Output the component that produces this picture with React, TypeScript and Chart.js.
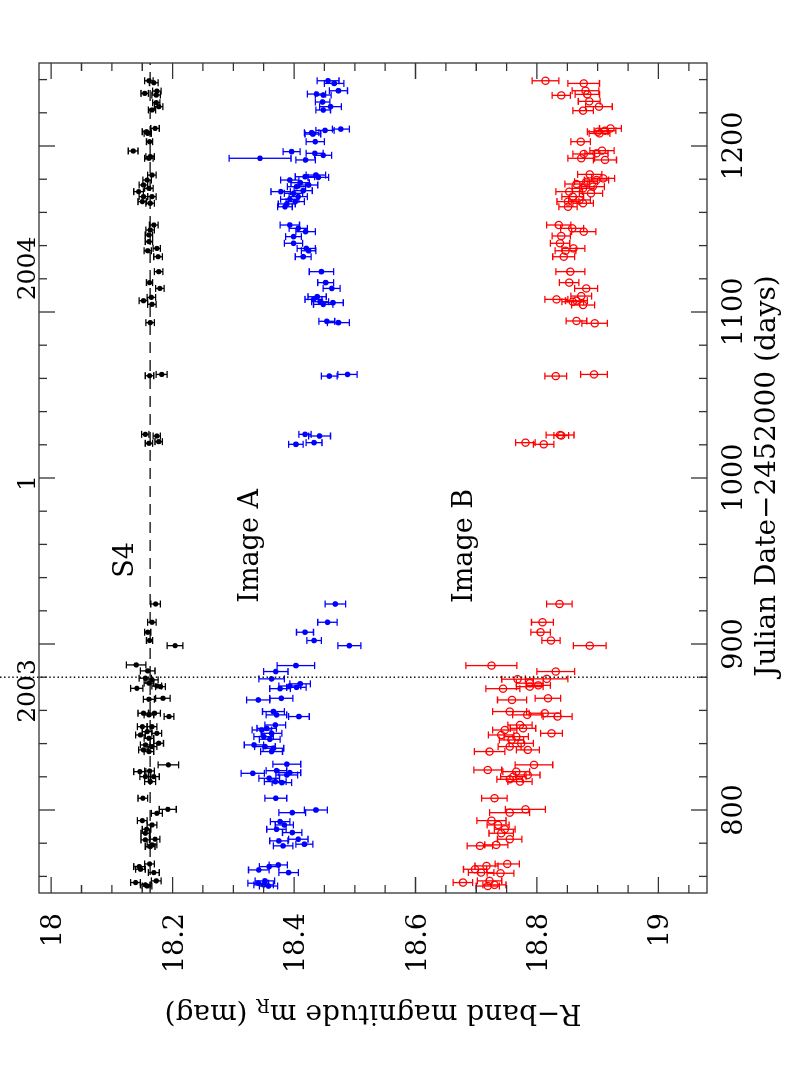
import React, { useEffect, useRef } from 'react';
import { Chart, registerables } from 'chart.js';

Chart.register(...registerables);

// [Julian Date - 2452000, R magnitude, error]
const s4Points: [number, number, number][] = [
  [1239.3, 18.161, 0.007], [1238.1, 18.169, 0.007], [1233.1, 18.174, 0.007], [1231.7, 18.154, 0.006],
  [1230.7, 18.173, 0.007], [1226.1, 18.173, 0.006], [1223.7, 18.177, 0.007], [1221.7, 18.166, 0.006],
  [1210.6, 18.171, 0.007], [1208.6, 18.157, 0.007], [1207.6, 18.159, 0.006], [1202.6, 18.162, 0.005],
  [1197.0, 18.135, 0.008], [1193.6, 18.163, 0.007], [1192.6, 18.161, 0.007], [1182.5, 18.166, 0.007],
  [1179.5, 18.158, 0.007], [1176.5, 18.152, 0.007], [1174.5, 18.161, 0.007], [1172.5, 18.144, 0.008],
  [1169.5, 18.152, 0.007], [1169.5, 18.166, 0.007], [1166.5, 18.150, 0.007], [1165.5, 18.163, 0.007],
  [1152.4, 18.169, 0.007], [1149.4, 18.163, 0.007], [1146.4, 18.161, 0.006], [1142.4, 18.161, 0.006],
  [1138.3, 18.174, 0.006], [1136.9, 18.159, 0.006], [1133.3, 18.176, 0.007], [1124.3, 18.177, 0.007],
  [1117.7, 18.162, 0.005], [1114.2, 18.179, 0.007], [1108.8, 18.165, 0.007], [1106.8, 18.152, 0.007],
  [1104.6, 18.166, 0.007], [1093.6, 18.163, 0.007], [1062.4, 18.182, 0.009], [1061.6, 18.162, 0.007],
  [1026.3, 18.155, 0.006], [1025.3, 18.174, 0.006], [1021.9, 18.177, 0.006], [1020.9, 18.161, 0.006],
  [924.1, 18.172, 0.008], [913.1, 18.166, 0.007], [907.1, 18.159, 0.005], [902.1, 18.162, 0.005],
  [899.0, 18.204, 0.013], [887.4, 18.140, 0.016], [883.8, 18.159, 0.012], [879.4, 18.155, 0.010],
  [878.4, 18.166, 0.010], [876.4, 18.161, 0.008], [874.7, 18.174, 0.008], [874.3, 18.180, 0.008],
  [873.3, 18.141, 0.010], [867.3, 18.184, 0.012], [866.7, 18.161, 0.009], [858.3, 18.152, 0.009],
  [858.3, 18.170, 0.010], [857.3, 18.161, 0.008], [856.3, 18.194, 0.008], [850.2, 18.150, 0.008],
  [850.2, 18.166, 0.008], [847.2, 18.158, 0.008], [846.2, 18.174, 0.008], [845.2, 18.147, 0.008],
  [843.2, 18.161, 0.008], [840.2, 18.177, 0.008], [839.2, 18.155, 0.008], [838.2, 18.166, 0.008],
  [836.2, 18.152, 0.008], [835.2, 18.161, 0.008], [827.2, 18.193, 0.017], [823.5, 18.162, 0.008],
  [823.1, 18.146, 0.010], [820.1, 18.155, 0.009], [820.1, 18.169, 0.009], [817.1, 18.163, 0.009],
  [807.1, 18.151, 0.008], [800.4, 18.192, 0.014], [798.0, 18.174, 0.009], [793.6, 18.150, 0.008],
  [791.0, 18.166, 0.008], [788.4, 18.157, 0.007], [786.0, 18.155, 0.007], [782.4, 18.171, 0.008],
  [782.0, 18.155, 0.007], [779.0, 18.166, 0.008], [778.0, 18.163, 0.008], [767.5, 18.162, 0.008],
  [765.9, 18.145, 0.009], [764.3, 18.147, 0.008], [762.3, 18.169, 0.009], [757.3, 18.173, 0.008],
  [756.3, 18.139, 0.008], [754.9, 18.155, 0.008], [754.2, 18.158, 0.008],
];

const imageAPoints: [number, number, number][] = [
  [1239.3, 18.456, 0.018], [1237.7, 18.466, 0.016], [1233.3, 18.473, 0.015], [1231.3, 18.437, 0.015],
  [1230.7, 18.448, 0.013], [1226.5, 18.447, 0.012], [1223.7, 18.460, 0.018], [1221.7, 18.448, 0.012],
  [1210.2, 18.477, 0.014], [1209.4, 18.451, 0.015], [1208.0, 18.429, 0.012], [1207.2, 18.431, 0.013],
  [1202.6, 18.435, 0.015], [1196.6, 18.396, 0.014], [1195.6, 18.434, 0.014], [1194.4, 18.448, 0.014],
  [1192.6, 18.344, 0.051], [1191.6, 18.419, 0.016], [1182.5, 18.436, 0.016], [1181.1, 18.440, 0.017],
  [1181.5, 18.418, 0.016], [1179.5, 18.393, 0.015], [1177.9, 18.410, 0.015], [1176.5, 18.424, 0.015],
  [1175.5, 18.404, 0.015], [1173.1, 18.415, 0.015], [1172.5, 18.378, 0.016], [1171.5, 18.399, 0.015],
  [1169.5, 18.407, 0.015], [1167.9, 18.393, 0.015], [1166.5, 18.402, 0.015], [1165.1, 18.388, 0.014],
  [1163.4, 18.385, 0.012], [1152.4, 18.393, 0.016], [1150.4, 18.407, 0.015], [1148.4, 18.419, 0.016],
  [1145.4, 18.399, 0.013], [1141.4, 18.399, 0.015], [1138.3, 18.420, 0.015], [1136.9, 18.424, 0.012],
  [1133.3, 18.415, 0.013], [1124.3, 18.445, 0.020], [1117.7, 18.452, 0.013], [1114.2, 18.462, 0.014],
  [1109.2, 18.438, 0.015], [1107.6, 18.432, 0.014], [1106.2, 18.443, 0.014], [1105.6, 18.464, 0.017],
  [1104.6, 18.448, 0.016], [1094.4, 18.454, 0.013], [1093.6, 18.473, 0.018], [1062.4, 18.488, 0.016],
  [1061.4, 18.458, 0.013], [1026.3, 18.418, 0.010], [1025.3, 18.442, 0.018], [1021.3, 18.433, 0.013],
  [1020.3, 18.403, 0.012], [924.1, 18.468, 0.017], [913.1, 18.455, 0.016], [907.1, 18.418, 0.014],
  [902.1, 18.433, 0.012], [899.0, 18.491, 0.019], [887.0, 18.403, 0.031], [883.4, 18.370, 0.020],
  [879.0, 18.363, 0.021], [876.0, 18.410, 0.017], [874.7, 18.393, 0.018], [873.9, 18.404, 0.016],
  [873.1, 18.377, 0.017], [867.3, 18.379, 0.019], [866.3, 18.341, 0.019], [859.3, 18.366, 0.018],
  [857.3, 18.371, 0.017], [856.3, 18.408, 0.017], [851.2, 18.369, 0.017], [849.2, 18.355, 0.016],
  [848.2, 18.347, 0.016], [846.2, 18.363, 0.017], [844.2, 18.350, 0.016], [842.6, 18.360, 0.017],
  [839.2, 18.334, 0.016], [838.2, 18.352, 0.017], [837.2, 18.366, 0.017], [835.2, 18.363, 0.018],
  [827.6, 18.388, 0.023], [823.7, 18.371, 0.017], [822.5, 18.393, 0.018], [822.1, 18.332, 0.019],
  [821.1, 18.388, 0.018], [819.1, 18.359, 0.017], [817.1, 18.369, 0.018], [816.5, 18.380, 0.016],
  [807.1, 18.370, 0.018], [800.0, 18.436, 0.019], [798.4, 18.397, 0.022], [793.0, 18.377, 0.016],
  [791.0, 18.384, 0.015], [788.4, 18.371, 0.016], [786.4, 18.397, 0.016], [782.4, 18.407, 0.016],
  [781.4, 18.375, 0.015], [779.4, 18.417, 0.014], [778.4, 18.382, 0.016], [766.9, 18.374, 0.015],
  [765.9, 18.359, 0.016], [763.9, 18.342, 0.017], [762.3, 18.391, 0.016], [757.3, 18.352, 0.016],
  [755.9, 18.341, 0.017], [754.9, 18.350, 0.016], [754.2, 18.358, 0.015],
];

const imageBPoints: [number, number, number][] = [
  [1239.3, 18.814, 0.022], [1237.7, 18.877, 0.026], [1233.3, 18.880, 0.022], [1231.1, 18.883, 0.020],
  [1230.5, 18.840, 0.015], [1226.9, 18.886, 0.018], [1223.7, 18.902, 0.022], [1221.3, 18.876, 0.017],
  [1210.6, 18.921, 0.018], [1209.2, 18.912, 0.018], [1208.6, 18.900, 0.017], [1207.6, 18.903, 0.017],
  [1202.6, 18.872, 0.016], [1197.2, 18.907, 0.020], [1195.6, 18.898, 0.019], [1195.2, 18.877, 0.018],
  [1192.6, 18.873, 0.022], [1191.6, 18.912, 0.019], [1182.9, 18.887, 0.020], [1180.5, 18.909, 0.019],
  [1179.5, 18.898, 0.020], [1178.5, 18.881, 0.019], [1177.1, 18.865, 0.019], [1175.5, 18.892, 0.019],
  [1174.5, 18.876, 0.018], [1172.5, 18.853, 0.022], [1171.5, 18.889, 0.019], [1169.5, 18.859, 0.018],
  [1167.5, 18.870, 0.018], [1166.5, 18.851, 0.018], [1165.5, 18.876, 0.017], [1163.4, 18.851, 0.015],
  [1152.4, 18.836, 0.020], [1150.4, 18.858, 0.019], [1148.4, 18.877, 0.020], [1145.8, 18.840, 0.015],
  [1141.4, 18.838, 0.016], [1138.3, 18.860, 0.019], [1136.9, 18.847, 0.017], [1133.3, 18.844, 0.018],
  [1124.3, 18.855, 0.024], [1117.7, 18.853, 0.016], [1114.2, 18.881, 0.019], [1109.6, 18.873, 0.017],
  [1107.6, 18.832, 0.019], [1106.8, 18.865, 0.018], [1106.2, 18.859, 0.018], [1104.2, 18.876, 0.019],
  [1094.6, 18.865, 0.017], [1093.2, 18.895, 0.021], [1062.4, 18.894, 0.022], [1061.4, 18.831, 0.018],
  [1025.9, 18.838, 0.023], [1025.6, 18.840, 0.012], [1021.3, 18.781, 0.016], [1020.3, 18.811, 0.017],
  [924.1, 18.837, 0.021], [913.1, 18.809, 0.018], [907.1, 18.806, 0.016], [902.1, 18.823, 0.015],
  [899.0, 18.887, 0.027], [887.0, 18.725, 0.042], [883.4, 18.831, 0.031], [879.0, 18.816, 0.035],
  [878.8, 18.768, 0.026], [876.4, 18.788, 0.022], [875.1, 18.802, 0.020], [874.3, 18.788, 0.022],
  [873.1, 18.744, 0.028], [867.3, 18.818, 0.021], [866.3, 18.759, 0.024], [859.3, 18.755, 0.028],
  [858.3, 18.813, 0.026], [857.3, 18.784, 0.024], [856.3, 18.834, 0.024], [851.2, 18.772, 0.020],
  [849.2, 18.777, 0.021], [848.2, 18.747, 0.020], [846.2, 18.824, 0.018], [845.2, 18.741, 0.021],
  [844.2, 18.766, 0.020], [842.2, 18.758, 0.020], [840.2, 18.774, 0.020], [838.2, 18.755, 0.019],
  [836.2, 18.785, 0.019], [835.2, 18.722, 0.025], [827.2, 18.795, 0.031], [824.1, 18.719, 0.023],
  [823.1, 18.766, 0.022], [821.1, 18.785, 0.020], [820.1, 18.761, 0.021], [818.5, 18.755, 0.021],
  [817.1, 18.772, 0.020], [807.1, 18.730, 0.021], [800.4, 18.781, 0.033], [798.4, 18.755, 0.033],
  [793.6, 18.725, 0.024], [791.0, 18.736, 0.018], [788.4, 18.747, 0.017], [786.0, 18.741, 0.020],
  [782.4, 18.755, 0.020], [779.0, 18.733, 0.019], [778.4, 18.706, 0.021], [767.5, 18.751, 0.020],
  [766.3, 18.717, 0.019], [764.3, 18.698, 0.019], [762.3, 18.708, 0.021], [761.9, 18.740, 0.022],
  [757.3, 18.722, 0.020], [756.3, 18.678, 0.016], [754.9, 18.730, 0.019], [754.2, 18.719, 0.019],
];

const s4MeanMag = 18.163;
const jdRange = [750, 1250];
const magRange = [17.98, 19.08];
const markerJD = 880;

const jdMajorTicks = [800, 900, 1000, 1100, 1200];
const jdMajorLabels = ['800', '900', '1000', '1100', '1200'];
const jdMinorTicks = [760, 780, 820, 840, 860, 880, 920, 940, 960, 980, 1020, 1040, 1060, 1080, 1120, 1140, 1160, 1180, 1220, 1240];
const magMajorTicks = [18, 18.2, 18.4, 18.6, 18.8, 19];
const magMajorLabels = ['18', '18.2', '18.4', '18.6', '18.8', '19'];
const magMinorTicks = [18.05, 18.1, 18.15, 18.25, 18.3, 18.35, 18.45, 18.5, 18.55, 18.65, 18.7, 18.75, 18.85, 18.9, 18.95, 19.05];

const yearLabels = ['2003', '1', '2004'];
const yearLabelJD = [871.7, 997, 1126.2];

const seriesLabels = ['S4', 'Image A', 'Image B'];
const seriesLabelJD = [950.7, 959.1, 959.1];
const seriesLabelMag = [18.135, 18.341, 18.693];

const FONT = '"DejaVu Serif", "Liberation Serif", serif';
const W = 1067;
const H = 797;

const errorBarPlugin = {
  id: 'errorBars',
  beforeDatasetsDraw(chart: any) {
    const ctx = chart.ctx;
    const xs = chart.scales.x;
    const ys = chart.scales.y;
    ctx.save();
    chart.data.datasets.forEach((ds: any) => {
      if (!ds.errors) return;
      ctx.strokeStyle = ds.errColor;
      ctx.lineWidth = 1.3;
      ds.data.forEach((p: any, j: number) => {
        const e = ds.errors[j];
        const px = xs.getPixelForValue(p.x);
        const y1 = ys.getPixelForValue(p.y - e);
        const y2 = ys.getPixelForValue(p.y + e);
        ctx.beginPath();
        ctx.moveTo(px, y1);
        ctx.lineTo(px, y2);
        ctx.moveTo(px - 3.5, y1);
        ctx.lineTo(px + 3.5, y1);
        ctx.moveTo(px - 3.5, y2);
        ctx.lineTo(px + 3.5, y2);
        ctx.stroke();
      });
    });
    ctx.restore();
  },
};

const framePlugin = {
  id: 'frame',
  afterDraw(chart: any) {
    const ctx = chart.ctx;
    const xs = chart.scales.x;
    const ys = chart.scales.y;
    const { left, right, top, bottom } = chart.chartArea;
    ctx.save();

    // dotted marker line
    const mx = xs.getPixelForValue(markerJD);
    ctx.strokeStyle = '#000';
    ctx.lineWidth = 1.4;
    ctx.setLineDash([1.5, 2.6]);
    ctx.beginPath();
    ctx.moveTo(mx, 0);
    ctx.lineTo(mx, bottom);
    ctx.stroke();
    ctx.setLineDash([]);

    // frame
    ctx.strokeStyle = '#333';
    ctx.lineWidth = 1.3;
    ctx.strokeRect(left, top, right - left, bottom - top);

    ctx.beginPath();
    jdMajorTicks.forEach((v) => {
      const px = xs.getPixelForValue(v);
      ctx.moveTo(px, bottom); ctx.lineTo(px, bottom - 16);
      ctx.moveTo(px, top); ctx.lineTo(px, top + 16);
    });
    jdMinorTicks.forEach((v) => {
      const px = xs.getPixelForValue(v);
      ctx.moveTo(px, bottom); ctx.lineTo(px, bottom - 8);
      ctx.moveTo(px, top); ctx.lineTo(px, top + 8);
    });
    magMajorTicks.forEach((v) => {
      const py = ys.getPixelForValue(v);
      ctx.moveTo(left, py); ctx.lineTo(left + 16, py);
      ctx.moveTo(right, py); ctx.lineTo(right - 16, py);
    });
    magMinorTicks.forEach((v) => {
      const py = ys.getPixelForValue(v);
      ctx.moveTo(left, py); ctx.lineTo(left + 8, py);
      ctx.moveTo(right, py); ctx.lineTo(right - 8, py);
    });
    ctx.stroke();

    ctx.fillStyle = '#000';
    ctx.textBaseline = 'alphabetic';

    // JD tick labels
    ctx.font = `27px ${FONT}`;
    ctx.textAlign = 'center';
    jdMajorTicks.forEach((v, i) => {
      ctx.fillText(jdMajorLabels[i], xs.getPixelForValue(v), bottom + 35);
    });

    // magnitude tick labels
    ctx.textAlign = 'right';
    magMajorTicks.forEach((v, i) => {
      ctx.fillText(magMajorLabels[i], left - 20, ys.getPixelForValue(v) + 10);
    });

    // year labels on top axis
    ctx.font = `25px ${FONT}`;
    ctx.textAlign = 'center';
    yearLabels.forEach((t, i) => {
      ctx.fillText(t, xs.getPixelForValue(yearLabelJD[i]), top - 4);
    });

    // series labels
    ctx.font = `27px ${FONT}`;
    seriesLabels.forEach((t, i) => {
      ctx.fillText(t, xs.getPixelForValue(seriesLabelJD[i]), ys.getPixelForValue(seriesLabelMag[i]));
    });

    // x title
    ctx.font = `28px ${FONT}`;
    ctx.fillText('Julian Date\u22122452000 (days)', (left + right) / 2 + 2, bottom + 68);

    // y title, rotated with subscript
    const part1 = 'R\u2212band magnitude m';
    const sub = 'R';
    const part2 = ' (mag)';
    ctx.font = `28px ${FONT}`;
    const w1 = ctx.measureText(part1).width;
    const w3 = ctx.measureText(part2).width;
    ctx.font = `18px ${FONT}`;
    const w2 = ctx.measureText(sub).width;
    const total = w1 + w2 + w3;
    ctx.translate(left - 112, (top + bottom) / 2);
    ctx.rotate(-Math.PI / 2);
    ctx.textAlign = 'left';
    ctx.font = `28px ${FONT}`;
    ctx.fillText(part1, -total / 2, 0);
    ctx.font = `18px ${FONT}`;
    ctx.fillText(sub, -total / 2 + w1, 6);
    ctx.font = `28px ${FONT}`;
    ctx.fillText(part2, -total / 2 + w1 + w2, 0);

    ctx.restore();
  },
};

function toXY(points: [number, number, number][]) {
  return points.map((p) => ({ x: p[0], y: p[1] }));
}

export default function App() {
  const ref = useRef<HTMLCanvasElement | null>(null);

  useEffect(() => {
    if (!ref.current) return;
    const chart = new Chart(ref.current, {
      type: 'scatter',
      data: {
        datasets: [
          {
            type: 'line',
            data: [
              { x: jdRange[0], y: s4MeanMag },
              { x: jdRange[1], y: s4MeanMag },
            ],
            borderColor: '#000',
            borderWidth: 1.4,
            borderDash: [11, 7],
            pointRadius: 0,
            fill: false,
          } as any,
          {
            data: toXY(s4Points),
            errors: s4Points.map((p) => p[2]),
            errColor: '#000',
            pointRadius: 2.6,
            pointBackgroundColor: '#000',
            pointBorderWidth: 0,
          } as any,
          {
            data: toXY(imageAPoints),
            errors: imageAPoints.map((p) => p[2]),
            errColor: '#0000ff',
            pointRadius: 2.8,
            pointBackgroundColor: '#0000ff',
            pointBorderWidth: 0,
          } as any,
          {
            data: toXY(imageBPoints),
            errors: imageBPoints.map((p) => p[2]),
            errColor: '#ff0000',
            pointRadius: 3.6,
            pointBackgroundColor: 'rgba(0,0,0,0)',
            pointBorderColor: '#ff0000',
            pointBorderWidth: 1.3,
          } as any,
        ],
      },
      options: {
        responsive: false,
        animation: false,
        events: [],
        layout: { padding: { left: 174, right: 63, top: 39, bottom: 90 } },
        plugins: { legend: { display: false }, tooltip: { enabled: false } },
        scales: {
          x: { type: 'linear', min: jdRange[0], max: jdRange[1], display: false },
          y: { type: 'linear', min: magRange[0], max: magRange[1], reverse: true, display: false },
        },
      },
      plugins: [errorBarPlugin, framePlugin],
    });
    return () => chart.destroy();
  }, []);

  return (
    <div style={{ position: 'absolute', left: 0, top: 0, width: 797, height: 1067, overflow: 'hidden', background: '#fff' }}>
      <canvas
        ref={ref}
        width={W}
        height={H}
        style={{
          position: 'absolute',
          left: 0,
          top: 0,
          width: W,
          height: H,
          transformOrigin: '0 0',
          transform: `translate(0px, ${W}px) rotate(-90deg)`,
        }}
      />
    </div>
  );
}
